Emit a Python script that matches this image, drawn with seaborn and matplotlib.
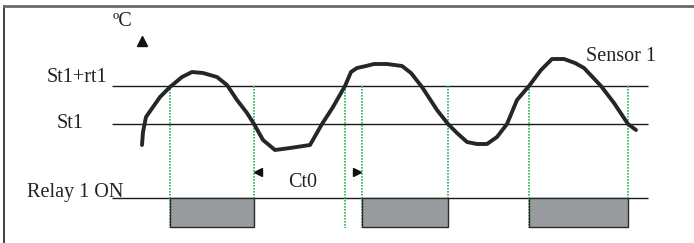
import numpy as np
import matplotlib
matplotlib.use('Agg')
import matplotlib.pyplot as plt
import seaborn as sns
import pandas as pd

# sensor trace (time, temperature) in its own units
time = [142, 143, 146, 153, 160, 170, 182, 192, 203, 217, 227, 237, 247, 254,
        263, 275, 290, 310, 322, 333, 345, 351, 357, 366, 374, 387, 402, 411,
        422, 437, 448, 457, 467, 477, 487, 497, 507, 517, 529, 541, 552, 564,
        575, 584, 601, 614, 628, 636]
temp = [145, 132, 117, 107, 97, 87, 77, 72, 73, 77, 85, 100, 113, 124,
        140, 150, 148, 145, 124, 107, 86, 72, 68, 66, 64, 64, 66, 73,
        87, 110, 124, 133, 142, 144, 144, 137, 124, 100, 86, 70, 59, 59,
        63, 68, 86, 103, 124, 130]

levels = [86, 124]            # St1+rt1, St1
level_labels = ['St1+rt1', 'St1']
relay_level = 198
relay_on = [170, 362, 529]
relay_off = [254, 448, 628]
switch_times = [170, 254, 345, 362, 448, 529, 628]

sns.set_style('white')
plt.rcParams['font.family'] = ['Liberation Serif', 'DejaVu Serif']

fig = plt.figure(figsize=(6.94, 2.43), dpi=100)
ax = fig.add_axes([4 / 694, 0, 690 / 694, 237 / 243])
ax.set_xlim(4, 694)
ax.set_ylim(243, 6)

# reference lines
ax.hlines(levels + [relay_level], 112, 648, color='#1a1a1a', linewidth=1.0)

# switching instants
ax.vlines(switch_times, levels[0], 228, color='#2db35a', linewidth=1.2,
          linestyles=(0, (1, 0.8)))

# relay ON periods
ax.bar(x=relay_on, height=29, width=np.array(relay_off) - np.array(relay_on),
       bottom=relay_level, align='edge', color='#999c9f', edgecolor='#2a2a2a',
       linewidth=1.0, zorder=3)

df = pd.DataFrame({'t': time, 'T': temp})
sns.lineplot(data=df, x='t', y='T', sort=False, color='#262626',
             linewidth=2.8, ax=ax, zorder=4)

fs = 14.5
ax.text(107, 77, level_labels[0], ha='right', va='center', fontsize=fs, color='#222')
ax.text(84, 123, level_labels[1], ha='right', va='center', fontsize=fs, color='#222')
ax.text(27, 192, 'Relay 1 ON', ha='left', va='center', fontsize=fs, color='#222')
ax.text(113, 21, 'ºC', ha='left', va='center', fontsize=fs, color='#222')
ax.text(303, 182, 'Ct0', ha='center', va='center', fontsize=fs, color='#222')
ax.text(586, 56, 'Sensor 1', ha='left', va='center', fontsize=fs, color='#222')

ax.plot([142], [41], marker='^', markersize=7, color='#111', linestyle='none')
ax.plot([258], [172], marker='<', markersize=5.5, color='#111', linestyle='none')
ax.plot([357], [172], marker='>', markersize=5.5, color='#111', linestyle='none')

ax.set_xlabel('')
ax.set_ylabel('')
ax.set_xticks([])
ax.set_yticks([])
for side in ['right', 'bottom']:
    ax.spines[side].set_visible(False)
ax.spines['top'].set_color('#6a6a6a')
ax.spines['top'].set_linewidth(2.0)
ax.spines['left'].set_color('#333333')
ax.spines['left'].set_linewidth(1.3)

fig.savefig('out.png', dpi=100)
